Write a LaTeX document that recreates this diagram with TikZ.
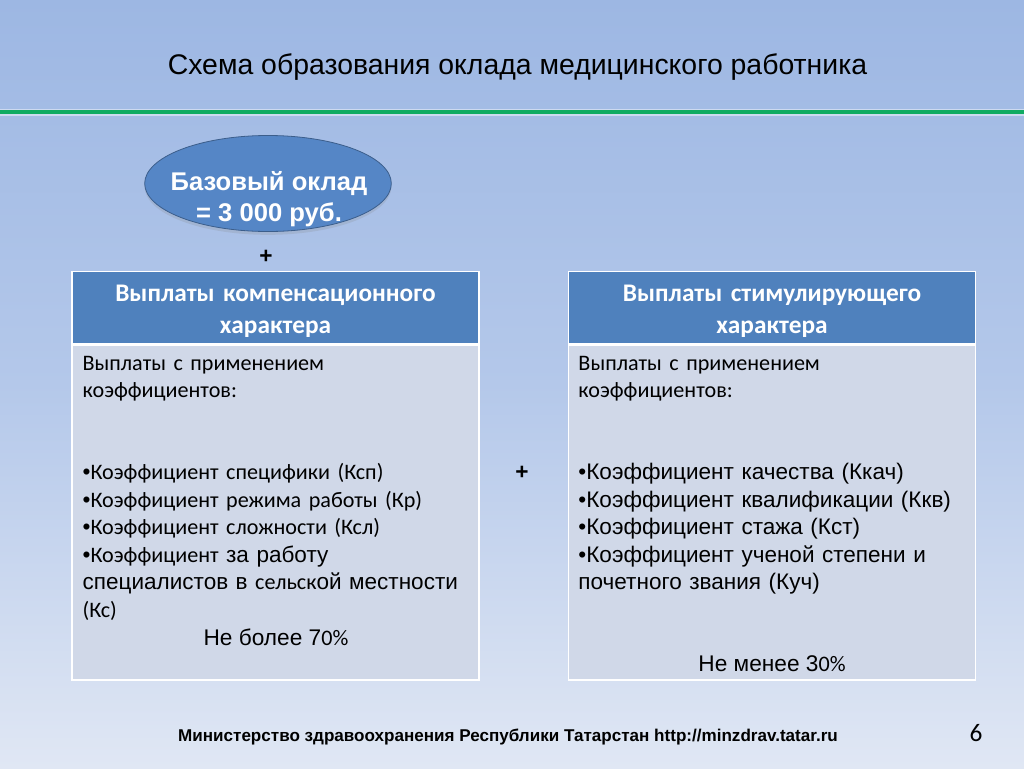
\documentclass[tikz,border=0pt]{standalone}
\usepackage{fontspec}
\setmainfont{Liberation Sans}
\newfontfamily\calfont{Carlito}
\usetikzlibrary{positioning,shapes.geometric,shadows}
\definecolor{bgtop}{HTML}{9DB7E3}
\definecolor{bgmid}{HTML}{B4C8EA}
\definecolor{bgbot}{HTML}{E0E7F4}
\definecolor{headblue}{HTML}{4F81BD}
\definecolor{cellblue}{HTML}{D0D8E8}
\definecolor{ovalblue}{HTML}{5586C6}
\definecolor{rulegreen}{HTML}{10AB62}
\newcommand{\cb}[1]{{\calfont\fontsize{16.6}{20.6}\selectfont #1}}
\tikzset{
  headcell/.style={draw=white,line width=1.2pt,fill=headblue,minimum width=305.5pt,minimum height=54pt,
    text=white,align=center,text width=290pt,inner sep=0pt,execute at begin node=\rule{0pt}{17.5pt},
    font=\calfont\bfseries\fontsize{19}{24}\selectfont},
  bodycell/.style={draw=white,line width=1.2pt,fill=cellblue,minimum width=305.5pt,anchor=north},
  bodytext/.style={anchor=north west,align=left,text width=296pt,inner sep=0pt,font=\fontsize{16.9}{20.6}\selectfont},
  sumtext/.style={inner sep=0pt,font=\fontsize{17}{20.6}\selectfont},
  plus/.style={inner sep=0pt,font=\bfseries\fontsize{17}{20}\selectfont}
}
\begin{document}
\begin{tikzpicture}[x=.75pt,y=.75pt]
  \useasboundingbox (0,0) rectangle (1024,-768);
  % background
  \shade[top color=bgtop,bottom color=bgbot,middle color=bgmid] (0,0) rectangle (1024,-768);
  \fill[white,opacity=.45] (0,-108.5) rectangle (1024,-115.5);
  \fill[rulegreen] (0,-110) rectangle (1024,-114);
  \node (title) at (517.5,-67) {\fontsize{21.3}{24}\selectfont Схема образования оклада медицинского работника};

  \node (base) [ellipse,minimum width=185pt,minimum height=72pt,fill=ovalblue,draw=ovalblue!70!black,
    line width=.6pt,drop shadow={opacity=.2,shadow xshift=0pt,shadow yshift=-2.5pt},inner sep=0pt] at (268,-183.5) {};
  \node (baseText) [text=white,align=center,inner sep=0pt,
    font=\bfseries\fontsize{19.2}{23}\selectfont] at (269,-199) {Базовый оклад\\= 3 000 руб.};
  \node (plusA) [plus] at (266,-257) {+};

  % left column
  \node (compHead) [headcell] at (275.5,-307.5) {Выплаты компенсационного\\характера};
  \node (compBody) [bodycell,minimum height=251pt] at (compHead.south) {};
  \node (compText) [bodytext,below right=8.5pt and 8.5pt of compBody.north west,anchor=north west]
    {\cb{Выплаты с применением}\\\cb{коэффициентов:}\\[41.2pt]
     •\cb{Коэффициент специфики (Ксп)}\\•\cb{Коэффициент режима работы (Кр)}\\
     •\cb{Коэффициент сложности (Ксл)}\\•\cb{Коэффициент} за работу\\
     специалистов в \cb{сельск}ой местности\\\cb{(Кс)}};
  \node (compSum) [sumtext] at (276,-637) {Не более 7\cb{0\%}};

  \node (plusB) [plus] at (522,-473) {+};

  % right column
  \node (stimHead) [headcell] at (772,-307.5) {Выплаты стимулирующего\\характера};
  \node (stimBody) [bodycell,minimum height=251pt] at (stimHead.south) {};
  \node (stimText) [bodytext,below right=8.5pt and 8pt of stimBody.north west,anchor=north west]
    {\cb{Выплаты с применением}\\\cb{коэффициентов:}\\[41.2pt]
     •Коэффициент качества (Ккач)\\•Коэффициент квалификации (Ккв)\\
     •Коэффициент стажа (Кст)\\•Коэффициент ученой степени и\\
     почетного звания (Куч)};
  \node (stimSum) [sumtext] at (772,-664) {Не менее 3\cb{0\%}};

  % footer
  \node (footer) [inner sep=0pt,font=\bfseries\fontsize{12.8}{15}\selectfont] at (508,-737)
    {Министерство здравоохранения Республики Татарстан http://minzdrav.tatar.ru};
  \node (pageno) [inner sep=0pt,font=\calfont\fontsize{19}{22}\selectfont] at (976,-733) {6};
\end{tikzpicture}
\end{document}
